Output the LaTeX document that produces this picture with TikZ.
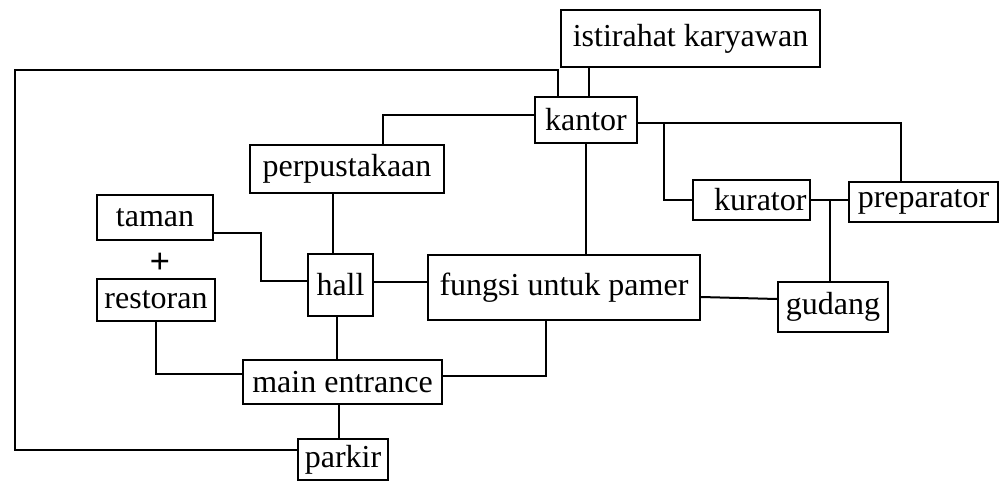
\documentclass[tikz,border=0pt]{standalone}
\usepackage{fontspec}
\setmainfont{Liberation Serif}
\begin{document}
\begin{tikzpicture}[x=0.5pt,y=-0.5pt,
  box/.style={draw,line width=1pt,inner sep=0pt,font=\fontsize{16}{19}\selectfont},
  conn/.style={line width=1pt}]
\useasboundingbox (0,0) rectangle (1001,482);
\node[box,minimum width=129.5pt,minimum height=28.5pt] (ist) at (690.5,38.5) {istirahat karyawan};
\node[box,minimum width=51pt,minimum height=23pt] (kantor) at (586,120) {kantor};
\node[box,minimum width=97pt,minimum height=24pt] (perp) at (347,169) {perpustakaan};
\node[box,minimum width=58pt,minimum height=22.5pt] (taman) at (155,217.5) {taman};
\node[font=\fontsize{18}{20}\selectfont\bfseries] (plus) at (160,263) {+};
\node[box,minimum width=59pt,minimum height=21pt] (resto) at (156,300) {restoran};
\node[box,minimum width=32.5pt,minimum height=31pt] (hall) at (340.5,285) {hall};
\node[box,minimum width=136pt,minimum height=32.5pt] (fungsi) at (564,287.5) {fungsi untuk pamer};
\node[box,minimum width=99.5pt,minimum height=22pt] (main) at (342.5,382) {main entrance};
\node[box,minimum width=45pt,minimum height=20.5pt] (parkir) at (343,459.5) {parkir};
\node[box,minimum width=58.5pt,minimum height=20pt,text width=55pt,align=right] (kurator) at (751.5,200) {kurator};
\node[box,minimum width=74.5pt,minimum height=20pt] (prep) at (923.5,202) {preparator};
\node[box,minimum width=55pt,minimum height=25pt] (gudang) at (833,307) {gudang};
\coordinate (L) at (15,70);
\coordinate (tb) at (261,260);
% loop parkir -> kantor
\draw[conn] ([yshift=5pt]parkir.west) -| (L) -| ([xshift=-14pt]kantor.north);
\draw[conn] ([xshift=1.5pt]kantor.north) -- ([xshift=1.5pt]kantor.north |- ist.south);
\draw[conn] ([yshift=2.5pt]kantor.west) -| ([xshift=18pt]perp.north);
\draw[conn] ([yshift=-1.5pt]kantor.east) -| ([xshift=-11.25pt]prep.north);
\draw[conn] (kurator.west) -| ([xshift=13pt,yshift=-1.5pt]kantor.east);
\draw[conn] (kantor.south) -- (kantor.south |- fungsi.north);
\draw[conn] ([xshift=-4pt]hall.north) -- ([xshift=-4pt]hall.north |- perp.south);
\draw[conn] ([yshift=-7.75pt]taman.east) -| (tb) |- ([yshift=2pt]hall.west);
\draw[conn] ([yshift=1.5pt]hall.east) -- ([yshift=1.5pt]hall.east -| fungsi.west);
\draw[conn] ([xshift=-1.75pt]hall.south) -- ([xshift=-1.75pt]hall.south |- main.north);
\draw[conn] (resto.south) |- ([yshift=4pt]main.west);
\draw[conn] ([yshift=3pt]main.east) -| ([xshift=-9pt]fungsi.south);
\draw[conn] ([xshift=-1.75pt]main.south) -- ([xshift=-1.75pt]main.south |- parkir.north);
\draw[conn] ([yshift=-4.75pt]fungsi.east) -- ([yshift=4pt]gudang.west);
\draw[conn] (kurator.east) -- (kurator.east -| prep.west);
\draw[conn] ([xshift=-1.5pt]gudang.north) -- ([xshift=-1.5pt]gudang.north |- kurator.east);
\end{tikzpicture}
\end{document}
